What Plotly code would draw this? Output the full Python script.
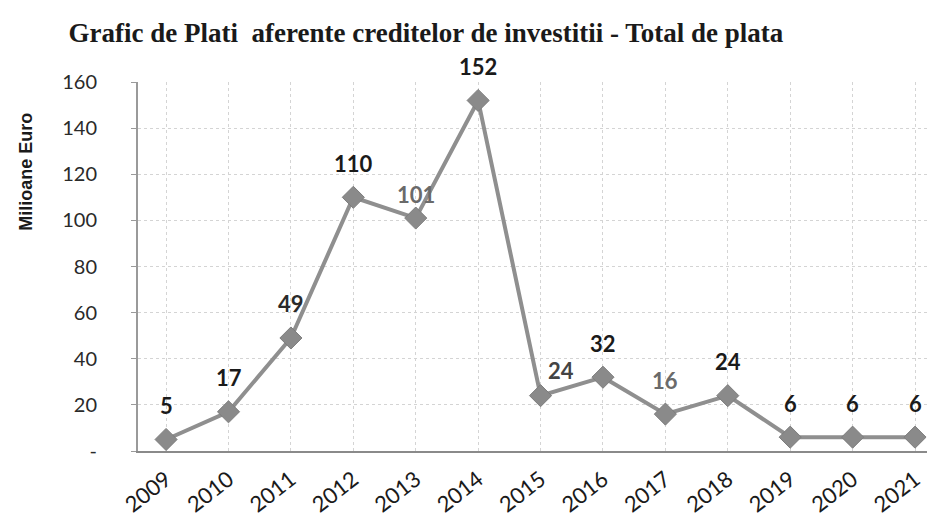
import plotly.graph_objects as go

# ---------------------------------------------------------------------------
# Data
# ---------------------------------------------------------------------------

YEARS = ["2009", "2010", "2011", "2012", "2013", "2014", "2015",
         "2016", "2017", "2018", "2019", "2020", "2021"]
PAYMENTS = [5, 17, 49, 110, 101, 152, 24, 32, 16, 24, 6, 6, 6]
LABEL_COLORS = ["#1a1a1a", "#1a1a1a", "#2a2a2a", "#1a1a1a", "#6a6a6a", "#1a1a1a",
                "#444444", "#1a1a1a", "#6a6a6a", "#1a1a1a", "#1a1a1a", "#1a1a1a",
                "#1a1a1a"]
Y_TICKS = [0, 20, 40, 60, 80, 100, 120, 140, 160]
Y_TICK_TEXT = ["-", "20", "40", "60", "80", "100", "120", "140", "160"]

LINE_GREY = "#8f8f8f"
GRID_GREY = "#d4d4d4"

fig = go.Figure()

fig.add_trace(
    go.Scatter(
        x=YEARS,
        y=PAYMENTS,
        mode="lines+markers",
        line=dict(color=LINE_GREY, width=4),
        marker=dict(symbol="diamond", size=17, color="#8a8a8a",
                    line=dict(color="#7d7d7d", width=1)),
        showlegend=False,
    )
)

# data labels above each point (x given as category index)
for i, (yr, val) in enumerate(zip(YEARS, PAYMENTS)):
    dx, dy = 0, 34
    if yr == "2013":
        dy = 24
    if yr == "2015":
        dx, dy = 20, 25
    fig.add_annotation(
        x=i, y=val, text=str(val), showarrow=False,
        xshift=dx, yshift=dy,
        font=dict(family="Lato", size=22, color=LABEL_COLORS[i], weight="bold"),
    )

# y-axis title placed like the original (upper part of the axis)
fig.add_annotation(
    text="<b>Milioane Euro</b>", textangle=-90,
    xref="paper", yref="paper", x=-0.141, y=0.756,
    xanchor="center", yanchor="middle", showarrow=False,
    font=dict(family="Liberation Sans", size=18, color="#1a1a1a"),
)

fig.update_layout(
    width=935,
    height=519,
    template="plotly_white",
    paper_bgcolor="white",
    plot_bgcolor="white",
    margin=dict(l=130, r=8, t=74, b=76),
    title=dict(
        text="Grafic de Plati  aferente creditelor de investitii - Total de plata",
        x=0.447, xanchor="center", y=0.952, yanchor="middle",
        font=dict(family="Liberation Serif", size=27, color="#1a1a1a",
                  weight="bold"),
    ),
)

fig.update_xaxes(
    type="category",
    range=[-0.45, 12.32],
    automargin=False,
    showgrid=True,
    gridcolor=GRID_GREY,
    griddash="dot",
    gridwidth=1,
    showline=True,
    linecolor="#8a8a8a",
    linewidth=2,
    ticks="",
    tickangle=-38,
    ticklabelstandoff=5,
    tickfont=dict(family="Lato", size=22, color="#1a1a1a"),
)

fig.update_yaxes(
    range=[0, 160],
    automargin=False,
    tickvals=Y_TICKS,
    ticktext=Y_TICK_TEXT,
    showgrid=True,
    gridcolor=GRID_GREY,
    griddash="dot",
    gridwidth=1,
    zeroline=False,
    showline=True,
    linecolor="#9a9a9a",
    linewidth=2,
    ticks="outside",
    ticklen=5,
    tickcolor="#9a9a9a",
    ticklabelstandoff=30,
    tickfont=dict(family="Lato", size=20, color="#2a2a2a"),
)

fig.write_html("out.html")
